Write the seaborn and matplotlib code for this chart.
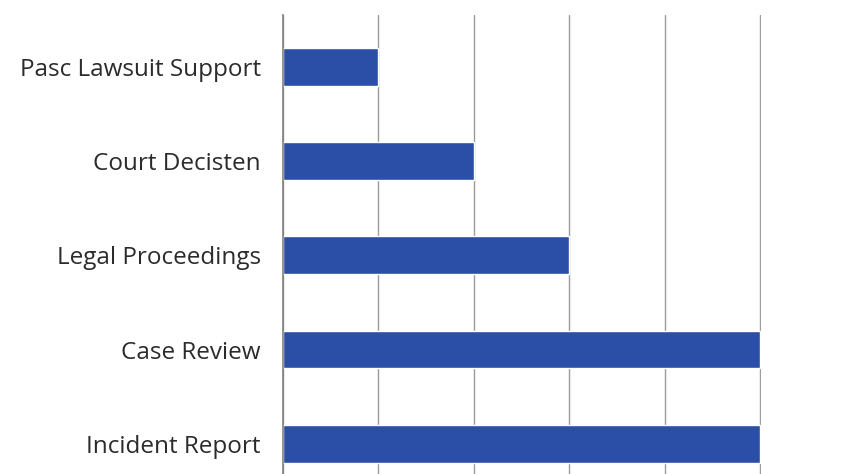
import matplotlib
matplotlib.use("Agg")
import matplotlib.pyplot as plt
import seaborn as sns
import pandas as pd

# chart data (top to bottom)
categories = ["Pasc Lawsuit Support", "Court Decisten", "Legal Proceedings",
              "Case Review", "Incident Report"]
values = [1, 2, 3, 5, 5]

BAR_COLOR = "#2B4FA6"

sns.set_style("white")
plt.rcParams["font.family"] = ["Open Sans", "DejaVu Sans"]

df = pd.DataFrame({"stage": categories, "value": values})

fig = plt.figure(figsize=(8.45, 4.74), dpi=100)
ax = fig.add_axes([283 / 845, 0.0, (761 - 283) / 845, 1 - 15 / 474])

sns.barplot(data=df, x="value", y="stage", orient="h", color=BAR_COLOR,
            width=0.4, saturation=1, ax=ax)

ax.set_xlim(0, 5.01)
ax.set_ylim(4.32, -0.55)
ax.set_xticks(range(0, 6))
ax.grid(axis="x", color="#9c9c9c", linewidth=1)
ax.set_axisbelow(True)
ax.set_xlabel("")
ax.set_ylabel("")
ax.tick_params(axis="x", labelbottom=False, length=0)
ax.tick_params(axis="y", length=0, pad=16, labelsize=17.5, labelcolor="#2b2b2b")
for side in ["top", "right", "bottom"]:
    ax.spines[side].set_visible(False)
ax.spines["left"].set_color("#808080")
ax.spines["left"].set_linewidth(1.2)

fig.savefig("out.png", dpi=100)
